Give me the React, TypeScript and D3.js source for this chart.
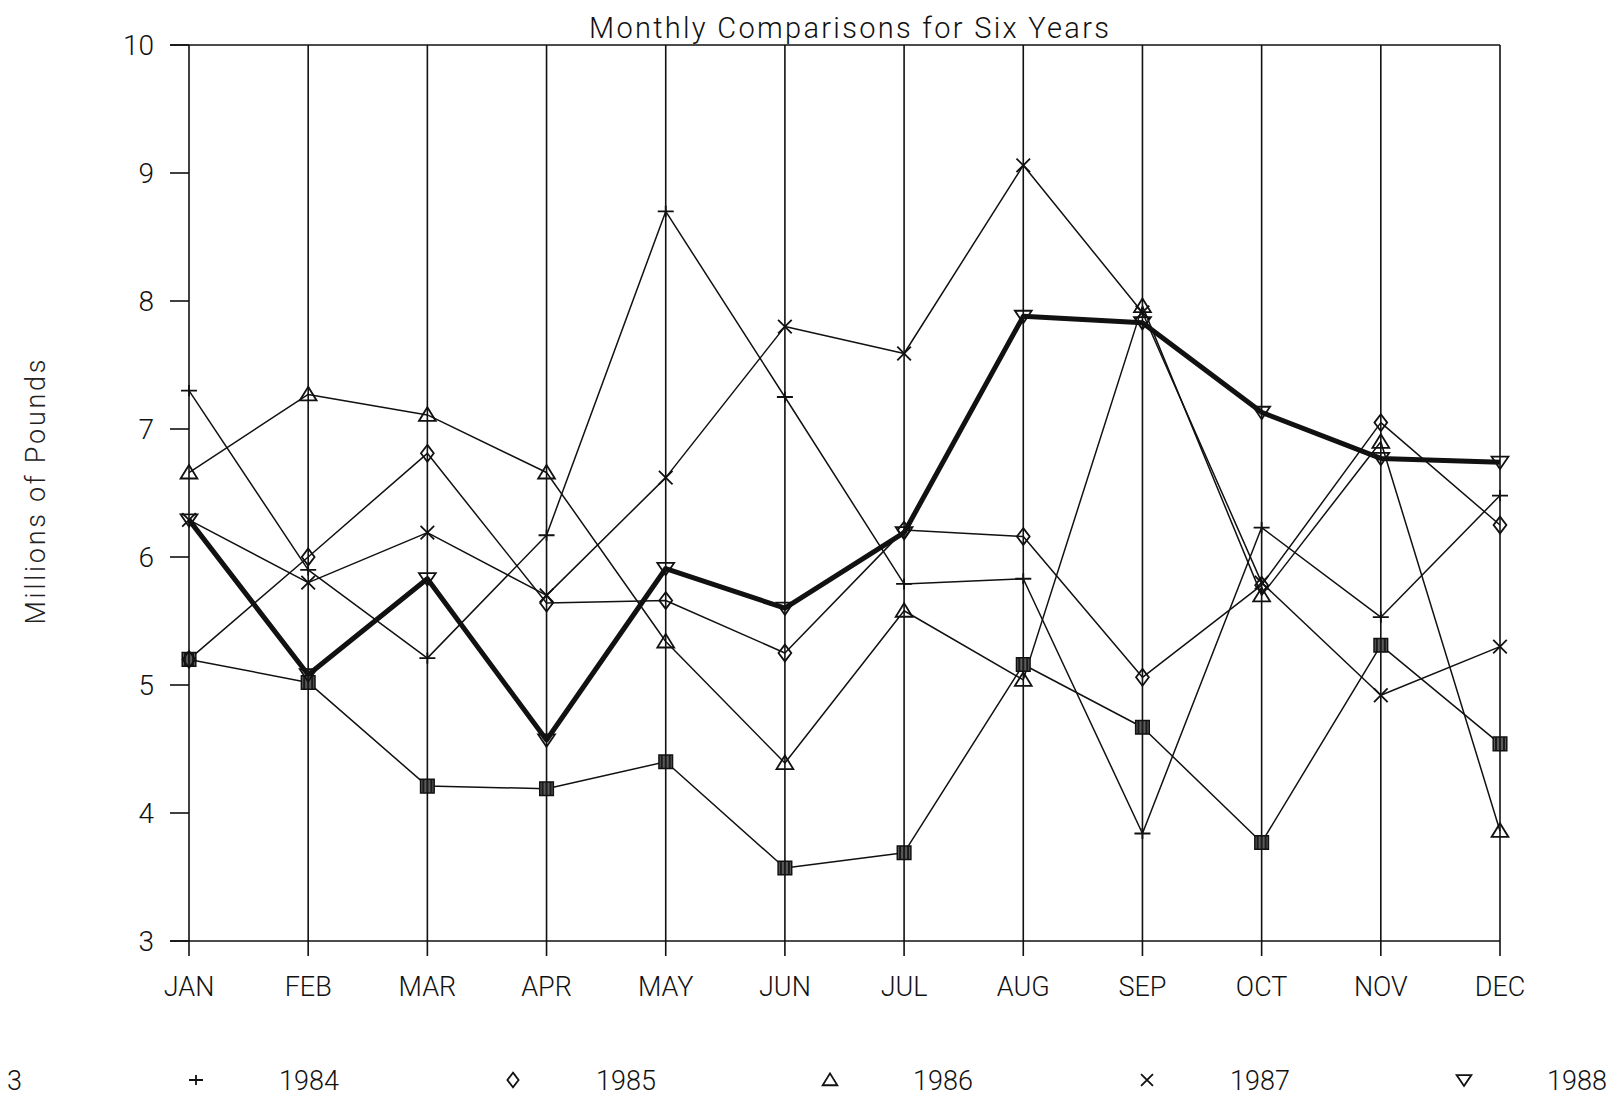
import React from "react";
import * as d3 from "d3";

const months = ["JAN", "FEB", "MAR", "APR", "MAY", "JUN", "JUL", "AUG", "SEP", "OCT", "NOV", "DEC"];
const yTicks = [3, 4, 5, 6, 7, 8, 9, 10];
const years = ["1983", "1984", "1985", "1986", "1987", "1988"];

const v1983 = [5.2, 5.02, 4.21, 4.19, 4.4, 3.57, 3.69, 5.16, 4.67, 3.77, 5.31, 4.54];
const v1984 = [7.3, 5.9, 5.21, 6.17, 8.7, 7.25, 5.79, 5.83, 3.84, 6.23, 5.53, 6.48];
const v1985 = [5.2, 6.0, 6.81, 5.64, 5.66, 5.25, 6.21, 6.16, 5.06, 5.78, 7.05, 6.25];
const v1986 = [6.66, 7.27, 7.11, 6.66, 5.34, 4.39, 5.58, 5.04, 7.96, 5.7, 6.9, 3.86];
const v1987 = [6.29, 5.8, 6.19, 5.7, 6.62, 7.8, 7.59, 9.06, 7.91, 5.8, 4.92, 5.3];
const v1988 = [6.29, 5.08, 5.83, 4.57, 5.91, 5.6, 6.19, 7.88, 7.83, 7.13, 6.77, 6.74];

const seriesValues = [v1983, v1984, v1985, v1986, v1987, v1988];
const seriesSymbols = ["square", "plus", "diamond", "triUp", "cross", "triDown"];

const title = "Monthly Comparisons for Six Years";
const yLabel = "Millions of Pounds";

const FONT = "Roboto, 'Liberation Sans', Arial, sans-serif";

function symbolPath(kind: string, s: number): string {
  switch (kind) {
    case "plus":
      return `M${-s},0H${s}M0,${-s * 0.7}V${s * 0.7}`;
    case "diamond":
      return `M0,${-s * 1.05}L${s * 0.8},0L0,${s * 1.05}L${-s * 0.8},0Z`;
    case "triUp":
      return `M0,${-s * 0.95}L${s * 1.05},${s * 0.75}L${-s * 1.05},${s * 0.75}Z`;
    case "triDown":
      return `M0,${s * 0.85}L${s * 1.05},${-s * 0.7}L${-s * 1.05},${-s * 0.7}Z`;
    case "cross":
      return `M${-s * 0.85},${-s * 0.85}L${s * 0.85},${s * 0.85}M${-s * 0.85},${s * 0.85}L${s * 0.85},${-s * 0.85}`;
    default:
      return `M${-s * 0.8},${-s * 0.8}H${s * 0.8}V${s * 0.8}H${-s * 0.8}Z`;
  }
}

function Marker({ kind, cx, cy, s }: { kind: string; cx: number; cy: number; s: number }) {
  if (kind === "square") {
    return (
      <path
        d={symbolPath(kind, s)}
        transform={`translate(${cx},${cy})`}
        fill="url(#hatch)"
        stroke="#111"
        strokeWidth={1.5}
      />
    );
  }
  return (
    <path
      d={symbolPath(kind, s)}
      transform={`translate(${cx},${cy})`}
      fill="none"
      stroke="#111"
      strokeWidth={1.8}
    />
  );
}

export default function App() {
  const W = 1614;
  const H = 1097;
  const x = d3.scalePoint<string>().domain(months).range([189, 1500]);
  const y = d3.scaleLinear().domain([3, 10]).range([941, 45]);
  const line = d3
    .line<number>()
    .x((_, i) => x(months[i]) as number)
    .y((d) => y(d));

  const legendX = d3.scalePoint<string>().domain(years).range([-121, 1464]);

  const x0 = x(months[0]) as number;
  const x1 = x(months[months.length - 1]) as number;

  return (
    <svg
      width={W}
      height={H}
      style={{ position: "absolute", left: 0, top: 0, background: "#fff" }}
      fontFamily={FONT}
    >
      <defs>
        <pattern id="hatch" width="4" height="4" patternUnits="userSpaceOnUse">
          <rect width="4" height="4" fill="#1a1a1a" />
          <rect x="1.5" width="1" height="4" fill="#9a9a9a" />
        </pattern>
        <clipPath id="legendClip">
          <rect x={7} y={1040} width={W - 7} height={57} />
        </clipPath>
      </defs>
      <rect width={W} height={H} fill="#fff" />

      {/* title */}
      <text
        x={849}
        y={38}
        textAnchor="middle"
        fontSize={29}
        fontWeight={300}
        fill="#111"
        textLength={520}
        lengthAdjust="spacing"
      >
        {title}
      </text>

      {/* y label */}
      <text
        transform={`translate(45,492) rotate(-90)`}
        textAnchor="middle"
        fontSize={27}
        fontWeight={300}
        fill="#222"
        textLength={265}
        lengthAdjust="spacing"
      >
        {yLabel}
      </text>

      {/* top & bottom frame lines */}
      <line x1={170} x2={x1} y1={y(10)} y2={y(10)} stroke="#111" strokeWidth={1.6} />
      <line x1={170} x2={x1} y1={y(3)} y2={y(3)} stroke="#111" strokeWidth={1.6} />

      {/* y ticks and labels */}
      {yTicks.map((t) => (
        <g key={t}>
          <line x1={170} x2={x0} y1={y(t)} y2={y(t)} stroke="#111" strokeWidth={1.6} />
          <text
            x={154}
            y={y(t) + 10}
            textAnchor="end"
            fontSize={28}
            fontWeight={300}
            fill="#111"
          >
            {t}
          </text>
        </g>
      ))}

      {/* vertical month lines + labels */}
      {months.map((m) => (
        <g key={m}>
          <line
            x1={x(m)}
            x2={x(m)}
            y1={y(10)}
            y2={y(3) + 15}
            stroke="#111"
            strokeWidth={1.6}
          />
          <text
            x={x(m)}
            y={996}
            textAnchor="middle"
            fontSize={27}
            fontWeight={300}
            fill="#111"
          >
            {m}
          </text>
        </g>
      ))}

      {/* series lines */}
      {seriesValues.map((vals, si) => (
        <path
          key={years[si]}
          d={line(vals) as string}
          fill="none"
          stroke="#111"
          strokeWidth={si === 5 ? 5 : 1.5}
          strokeLinejoin="round"
        />
      ))}

      {/* markers */}
      {seriesValues.map((vals, si) =>
        vals.map((v, i) => (
          <Marker
            key={`${si}-${i}`}
            kind={seriesSymbols[si]}
            cx={x(months[i]) as number}
            cy={y(v)}
            s={si === 0 ? 8.5 : 8}
          />
        ))
      )}

      {/* legend (left part cut off, as in the source) */}
      <g clipPath="url(#legendClip)">
        {years.map((yr, i) => {
          const lx = legendX(yr) as number;
          return (
            <g key={yr}>
              <Marker kind={seriesSymbols[i]} cx={lx} cy={1080} s={7} />
              <text
                x={lx + 143}
                y={1090}
                textAnchor="end"
                fontSize={27}
                fontWeight={300}
                fill="#111"
              >
                {yr}
              </text>
            </g>
          );
        })}
      </g>
    </svg>
  );
}
